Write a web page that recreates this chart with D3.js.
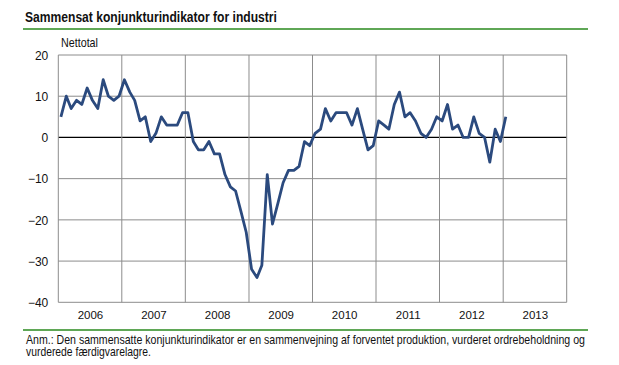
<!DOCTYPE html>
<html>
<head>
<meta charset="utf-8">
<script src="https://cdn.jsdelivr.net/npm/d3@7"></script>
<style>
  body { margin: 0; background: #fff; }
  svg { display: block; }
  text { font-family: "Liberation Sans", Arial, sans-serif; fill: #111; }
</style>
</head>
<body>
<div id="chart"></div>
<script>
const width = 619;
const height = 365;

// monthly net totals, Jan 2006 - Jan 2013
const values2006 = [5, 10, 7, 9, 8, 12, 9, 7, 14, 10, 9, 10];
const values2007 = [14, 11, 9, 4, 5, -1, 1, 5, 3, 3, 3, 6];
const values2008 = [6, -1, -3, -3, -1, -4, -4, -9, -12, -13, -18, -23];
const values2009 = [-32, -34, -31, -9, -21, -16, -11, -8, -8, -7, -1, -2];
const values2010 = [1, 2, 7, 4, 6, 6, 6, 3, 7, 2, -3, -2];
const values2011 = [4, 3, 2, 8, 11, 5, 6, 4, 1, 0, 2, 5];
const values2012 = [4, 8, 2, 3, 0, 0, 5, 1, 0, -6, 2, -1];
const values2013 = [5];

const years = [2006, 2007, 2008, 2009, 2010, 2011, 2012, 2013];
const yTicks = [20, 10, 0, -10, -20, -30, -40];

const title = 'Sammensat konjunkturindikator for industri';
const unitLabel = 'Nettotal';
const note1 = 'Anm.: Den sammensatte konjunkturindikator er en sammenvejning af forventet produktion, vurderet ordrebeholdning og';
const note2 = 'vurderede færdigvarelagre.';

const allValues = [].concat(values2006, values2007, values2008, values2009,
  values2010, values2011, values2012, values2013);
const start = new Date(2006, 0, 16);
const series = allValues.map((v, i) => ({ date: d3.timeMonth.offset(start, i), value: v }));

const plot = { left: 58.3, right: 566.7, top: 55, bottom: 302.3 };

const x = d3.scaleTime()
  .domain([new Date(2006, 0, 1), new Date(2014, 0, 1)])
  .range([plot.left, plot.right]);

const y = d3.scaleLinear()
  .domain([-40, 20])
  .range([plot.bottom, plot.top]);

const svg = d3.select('#chart')
  .append('svg')
  .attr('width', width)
  .attr('height', height);

// condensed look: draw at normal width, then squeeze horizontally
function narrowText(xPos, yPos, size, str, len, bold) {
  const t = svg.append('text')
    .style('font-size', size + 'px')
    .style('font-weight', bold ? 'bold' : 'normal')
    .text(str);
  const natural = t.node().getComputedTextLength();
  t.attr('transform', `translate(${xPos},${yPos}) scale(${len / natural},1)`);
  return t;
}

// title + green rules
narrowText(25, 22, 14.5, title, 252, true);

svg.append('line')
  .attr('x1', 23).attr('x2', 588)
  .attr('y1', 29).attr('y2', 29)
  .attr('stroke', '#2a8a1e').attr('stroke-width', 1.6);

svg.append('line')
  .attr('x1', 23).attr('x2', 588)
  .attr('y1', 330).attr('y2', 330)
  .attr('stroke', '#2a8a1e').attr('stroke-width', 1.6);

narrowText(61, 47, 12, unitLabel, 37, false);

// horizontal grid
svg.append('g')
  .selectAll('line')
  .data(yTicks)
  .join('line')
  .attr('x1', plot.left).attr('x2', plot.right)
  .attr('y1', d => y(d)).attr('y2', d => y(d))
  .attr('stroke', d => d === 0 ? '#000' : '#8c8c8c')
  .attr('stroke-width', d => d === 0 ? 1.3 : 1);

// vertical grid at year boundaries
const yearEdges = years.map(yr => new Date(yr, 0, 1)).concat([new Date(2014, 0, 1)]);
svg.append('g')
  .selectAll('line')
  .data(yearEdges)
  .join('line')
  .attr('x1', d => x(d)).attr('x2', d => x(d))
  .attr('y1', plot.top).attr('y2', plot.bottom)
  .attr('stroke', '#8c8c8c')
  .attr('stroke-width', 1);

// y axis labels
const yAxis = svg.append('g')
  .attr('transform', `translate(${plot.left - 10},0)`)
  .call(d3.axisLeft(y).tickValues(yTicks).tickSize(0).tickPadding(0));
yAxis.select('.domain').remove();
yAxis.selectAll('text')
  .style('font-size', '12px')
  .style('font-family', '"Liberation Sans", Arial, sans-serif')
  .attr('fill', '#111')
  .attr('dy', '0.35em');

// x axis labels, centered in each year
const xAxis = svg.append('g')
  .attr('transform', `translate(0,${plot.bottom + 9})`)
  .call(d3.axisBottom(x)
    .tickValues(years.map(yr => new Date(yr, 6, 2)))
    .tickFormat(d3.timeFormat('%Y'))
    .tickSize(0).tickPadding(0));
xAxis.select('.domain').remove();
xAxis.selectAll('text')
  .style('font-size', '11.5px')
  .style('font-family', '"Liberation Sans", Arial, sans-serif')
  .attr('fill', '#111')
  .attr('dy', '0.71em');

// the series
const line = d3.line()
  .x(d => x(d.date))
  .y(d => y(d.value));

svg.append('path')
  .datum(series)
  .attr('fill', 'none')
  .attr('stroke', '#2b4a7e')
  .attr('stroke-width', 2.8)
  .attr('stroke-linejoin', 'round')
  .attr('d', line);

// footnote
narrowText(26, 343.5, 12, note1, 560, false);
narrowText(26, 355.5, 12, note2, 125, false);
</script>
</body>
</html>
